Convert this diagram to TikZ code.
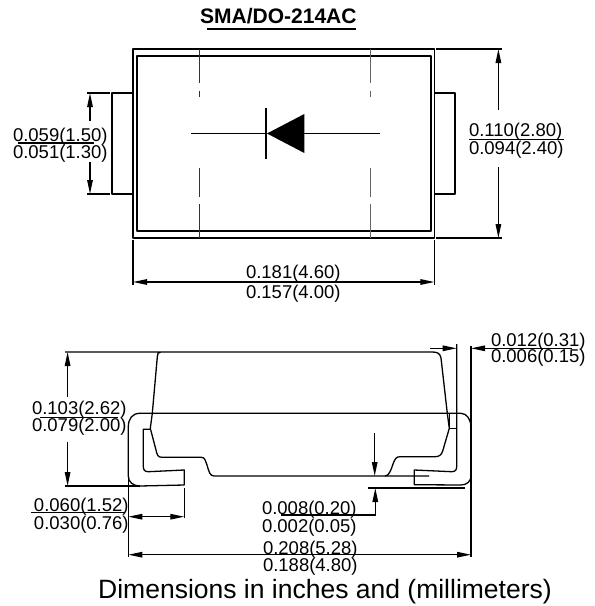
\documentclass[tikz,border=0pt]{standalone}
\usepackage{fontspec}
\setmainfont{Liberation Sans}
\usetikzlibrary{arrows.meta}
\tikzset{
 ln/.style={line width=1.3pt,line join=round},
 thick line/.style={line width=1.6pt,line join=round},
 dimv/.style={line width=1.3pt,-{Triangle[length=14pt,width=5.5pt]}},
 dimb/.style={line width=1.3pt,{Triangle[length=14pt,width=5.5pt]}-{Triangle[length=14pt,width=5.5pt]}},
 dimtxt/.style={anchor=base west,inner sep=0pt,outer sep=0pt,font=\fontsize{18.5}{18.5}\selectfont},
 dash line/.style={line width=1pt}
}
\begin{document}
\begin{tikzpicture}[x=1pt,y=-1pt]
\useasboundingbox (0,0) rectangle (595,606);
% title
\node[anchor=base west,inner sep=0pt,font=\fontsize{21}{21}\selectfont\bfseries] (title) at (200,23.3) {SMA/DO-214AC};
\draw[line width=2pt] (207,29) -- (356,29);
% top view
\draw[thick line] (133,49) rectangle (434.4,238);
\draw[thick line] (136.7,56) rectangle (430.7,231);
\draw[thick line] (133,93) -- (112,93) -- (112,194) -- (133,194);
\draw[thick line] (434.4,93) -- (455,93) -- (455,194) -- (434.4,194);
\foreach \x/\c in {199.5/black!80,370/black!60}{
 \draw[dash line,color=\c] (\x,49) -- (\x,83) (\x,90.7) -- (\x,96.7) (\x,168) -- (\x,196.7) (\x,204) -- (\x,238);
}
% diode
\fill (267,133.5) -- (304.3,114) -- (304.3,153) -- cycle;
\draw[line width=1.1pt] (266,108) -- (266,159);
\draw[line width=1pt] (191,133.5) -- (266,133.5) (304,133.5) -- (380,133.5);
% left dim
\draw[ln] (87,93) -- (110,93) (87,194) -- (110,194);
\draw[dimv] (90,121) -- (90,93);
\draw[dimv] (90,162) -- (90,194);
\node[dimtxt] (a1) at (13,141.7) {0.059(1.50)};
\node[dimtxt] (a2) at (13,158) {0.051(1.30)};
\draw[ln] (18,143) -- (94,143);
% right dim
\draw[ln] (436,49) -- (502,49) (436,238) -- (502,238);
\draw[dimv] (498.4,110) -- (498.4,49);
\draw[dimv] (498.4,167) -- (498.4,238);
\node[dimtxt] (b1) at (469,136.7) {0.110(2.80)};
\node[dimtxt] (b2) at (469,154) {0.094(2.40)};
\draw[ln] (469,139.7) -- (564,139.7);
% bottom dim
\draw[ln] (133,240) -- (133,285) (434.4,240) -- (434.4,285);
\draw[dimb] (133,282) -- (434.4,282);
\node[dimtxt] (c1) at (246,278.3) {0.181(4.60)};
\node[dimtxt] (c2) at (246,298.3) {0.157(4.00)};
% side view body
\draw[ln] (65,352) -- (160.5,352) .. controls (158,352) and (157.5,354) .. (157.3,357) -- (152.3,413.3) -- (150.3,428.3) -- (156,450) .. controls (157,455) and (158,457.3) .. (162,457.3) -- (201,457.3) .. controls (205,457.3) and (205,460) .. (207,465) .. controls (209,472) and (210,476) .. (214,476) -- (429,476);
\draw[ln] (160.5,352) -- (432,352) .. controls (437,352) and (440,353) .. (441,358) -- (447.3,413.3) -- (449.3,428.3) -- (442.7,451) .. controls (441.5,455) and (439,456.7) .. (435,456.7) -- (400,456.7) .. controls (396,456.7) and (395,459) .. (393,464) .. controls (391,470) and (389,476) .. (385,476);
% left lead
\draw[ln] (461,413.3) -- (140,413.3) .. controls (132,413.3) and (128.3,419) .. (128.3,427) -- (128.3,476) .. controls (128.3,482) and (133,486) .. (140,486) -- (184.3,485) -- (184.3,470) -- (148.3,471.7) .. controls (145,471.7) and (143.3,470) .. (143.3,466.7) -- (143.3,429.3) -- (150.3,429.3);
% right lead
\draw[ln] (461,413.3) .. controls (467,413.3) and (471,420) .. (471,427) -- (471,476) .. controls (471,481) and (467,485) .. (461,485) -- (414.3,484.7) -- (414.3,470) -- (451.7,471.7) .. controls (455,471.7) and (456.7,470) .. (456.7,466.7) -- (456.7,344);
\draw[ln] (449.3,413.3) -- (449.3,428.3) -- (456.7,428.3);
% extension lines
\draw[ln] (65,486) -- (140,486);
\draw[ln] (471,346) -- (471,557);
\draw[ln] (128.3,476) -- (128.3,557);
\draw[ln] (184.3,488) -- (184.3,518);
% height dim
\draw[dimv] (67.6,397) -- (67.6,352);
\draw[dimv] (67.6,441.7) -- (67.6,486);
\node[dimtxt] (d1) at (32,414.3) {0.103(2.62)};
\node[dimtxt] (d2) at (32,431.7) {0.079(2.00)};
\draw[ln] (40,417.3) -- (118,417.3);
% 0.012 dim
\draw[dimv] (430,348.3) -- (456.7,348.3);
\draw[dimv] (572,348.3) -- (471,348.3);
\node[dimtxt] (e1) at (491,346) {0.012(0.31)};
\node[dimtxt] (e2) at (491,362.7) {0.006(0.15)};
% 0.008 dim
\draw[dimv] (374.7,433.3) -- (374.7,476);
\draw[ln] (368,488) -- (465,488);
\draw[dimv] (281,515) -- (375.3,515) -- (375.3,488);
\node[dimtxt] (f1) at (262,514) {0.008(0.20)};
\node[dimtxt] (f2) at (262,532.7) {0.002(0.05)};
% 0.060 dim
\draw[dimb] (128.3,516.7) -- (184.3,516.7);
\draw[ln] (31,512.7) -- (125,512.7);
\node[dimtxt] (g1) at (34,511) {0.060(1.52)};
\node[dimtxt] (g2) at (34,529.3) {0.030(0.76)};
% 0.208 dim
\draw[dimb] (128.3,554.7) -- (471,554.7);
\node[dimtxt] (h1) at (263,554.3) {0.208(5.28)};
\node[dimtxt] (h2) at (263,571.7) {0.188(4.80)};
% caption
\node[anchor=base west,inner sep=0pt,font=\fontsize{26.5}{26.5}\selectfont] (cap) at (98,598.3) {Dimensions in inches and (millimeters)};
\end{tikzpicture}
\end{document}
